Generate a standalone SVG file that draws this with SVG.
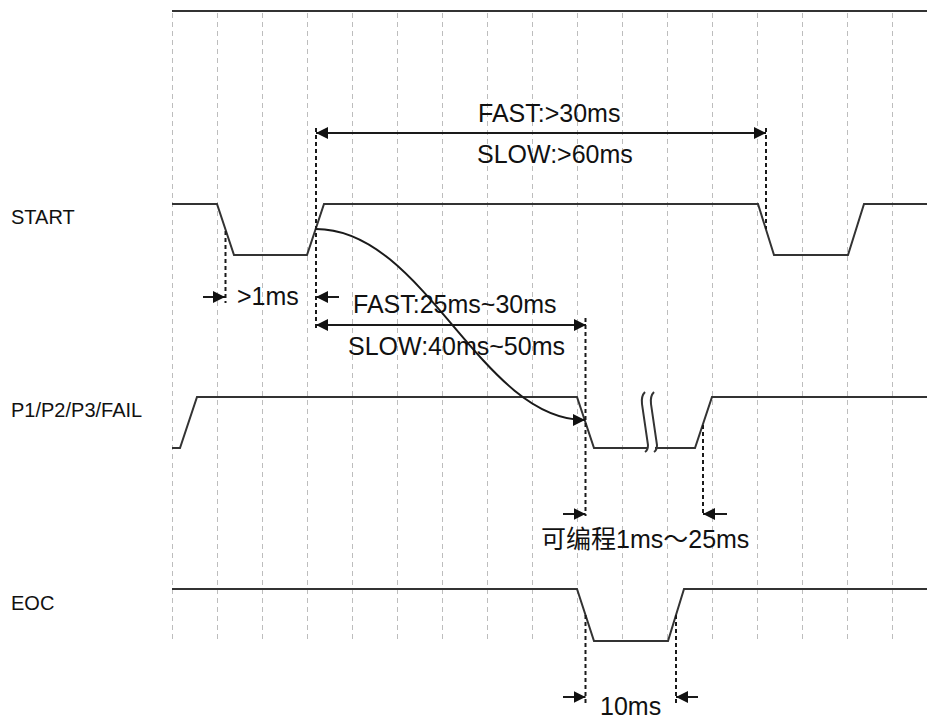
<svg xmlns="http://www.w3.org/2000/svg" width="927" height="722" viewBox="0 0 927 722">
<defs>
<style>
.grid{stroke:#bdbdbd;stroke-width:1;stroke-dasharray:5,4;fill:none}
.wave{stroke:#333;stroke-width:2;fill:none;stroke-linejoin:miter}
.guide{stroke:#1a1a1a;stroke-width:2;stroke-dasharray:4,3;fill:none}
.arr{stroke:#1a1a1a;stroke-width:2;fill:none}
.lbl{font-family:"Liberation Sans",Arial,sans-serif;font-size:20px;fill:#111}
.ann{font-family:"Liberation Sans",Arial,"Noto Sans CJK SC",sans-serif;font-size:25px;fill:#111}
</style>
<marker id="ah" markerUnits="userSpaceOnUse" markerWidth="12" markerHeight="12" refX="10" refY="5" orient="auto-start-reverse" viewBox="0 0 10 10">
<path d="M0,0 L10,5 L0,10 z" fill="#111"/>
</marker>
</defs>
<rect width="927" height="722" fill="#fff"/>
<g id="grid">
<line x1="172" y1="11" x2="927" y2="11" stroke="#333" stroke-width="2"/>
<path class="grid" d="M172.5,13V640M217.5,13V640M262.5,13V640M307.5,13V640M352.5,13V640M397.5,13V640M442.5,13V640M487.5,13V640M532.5,13V640M577.5,13V640M622.5,13V640M667.5,13V640M712.5,13V640M757.5,13V640M802.5,13V640M847.5,13V640M892.5,13V640"/>
</g>
<g id="start">
<text class="lbl" x="11" y="224">START</text>
<path class="wave" d="M172,204 L217,204 L234,255 L307,255 L324,204 L758,204 L774,255 L848,255 L864,204 L927,204"/>
</g>
<g id="p1">
<text class="lbl" x="11" y="417">P1/P2/P3/FAIL</text>
<path class="wave" d="M172,448 L180,448 L197,397 L577,397 L594,448 L647,448 M655,448 L695,448 L712,397 L927,397"/>
<path class="wave" stroke-width="1.6" d="M645,392 Q641,396 642,404 L648,445 Q648,450 645,452 M654,392 Q650,396 651,404 L657,445 Q657,450 654,452"/>
</g>
<g id="eoc">
<text class="lbl" x="11" y="610">EOC</text>
<path class="wave" d="M172,589 L577,589 L594,641 L668,641 L684,589 L927,589"/>
</g>
<g id="connectors">
<path class="guide" d="M225.5,231V303 M316,128V330 M766,128V229 M585.5,318V516 M703,425V516 M585.5,615V704 M676,615V704"/>
<line class="arr" x1="316" y1="133" x2="766" y2="133" marker-start="url(#ah)" marker-end="url(#ah)"/>
<line class="arr" x1="203" y1="297" x2="225" y2="297" marker-end="url(#ah)"/>
<line class="arr" x1="339" y1="297" x2="316" y2="297" marker-end="url(#ah)"/>
<line class="arr" x1="316" y1="325" x2="586" y2="325" marker-start="url(#ah)" marker-end="url(#ah)"/>
<line class="arr" x1="563" y1="514" x2="585.5" y2="514" marker-end="url(#ah)"/>
<line class="arr" x1="727" y1="514" x2="703" y2="514" marker-end="url(#ah)"/>
<line class="arr" x1="563" y1="697" x2="585.5" y2="697" marker-end="url(#ah)"/>
<line class="arr" x1="698" y1="697" x2="676" y2="697" marker-end="url(#ah)"/>
<path class="arr" stroke-width="1.5" d="M316,229 C425,229 480,420 585,420" marker-end="url(#ah)"/>
</g>
<g id="labels">
<text class="ann" x="478" y="122">FAST:&gt;30ms</text>
<text class="ann" x="477" y="163">SLOW:&gt;60ms</text>
<text class="ann" x="237" y="305">&gt;1ms</text>
<text class="ann" x="353" y="313">FAST:25ms~30ms</text>
<text class="ann" x="348" y="355">SLOW:40ms~50ms</text>
<text class="ann" x="541" y="548">可编程1ms～25ms</text>
<text class="ann" x="600" y="715">10ms</text>
</g>
</svg>
